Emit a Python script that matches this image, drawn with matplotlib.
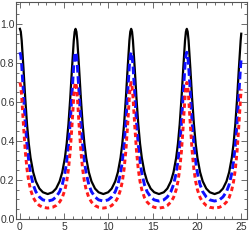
import numpy as np
import matplotlib
matplotlib.use('Agg')
import matplotlib.pyplot as plt
from matplotlib.ticker import MultipleLocator

# one period of each curve (peak at x = 0, 2pi, ...)
x_period = [0.0, 0.1, 0.2, 0.4, 0.6, 0.8, 1.0, 1.2, 1.5, 1.8, 2.2, 2.6, 3.14,
            3.683, 4.083, 4.483, 4.783, 5.083, 5.283, 5.483, 5.683, 5.883, 6.083, 6.183]
black_period = [0.975, 0.960, 0.915, 0.773, 0.619, 0.487, 0.387, 0.314, 0.240, 0.193, 0.156, 0.137, 0.128,
                0.137, 0.156, 0.193, 0.240, 0.314, 0.387, 0.487, 0.619, 0.773, 0.915, 0.960]
blue_period = [0.855, 0.838, 0.790, 0.644, 0.496, 0.379, 0.294, 0.235, 0.176, 0.140, 0.113, 0.098, 0.092,
               0.098, 0.113, 0.140, 0.176, 0.235, 0.294, 0.379, 0.496, 0.644, 0.790, 0.838]
red_period = [0.700, 0.681, 0.628, 0.481, 0.349, 0.255, 0.192, 0.150, 0.110, 0.087, 0.069, 0.060, 0.056,
              0.060, 0.069, 0.087, 0.110, 0.150, 0.192, 0.255, 0.349, 0.481, 0.628, 0.681]
period = 2 * np.pi
n_periods = 4
x_end = 25.0
end_values = {'black': 0.950, 'blue': 0.826, 'red': 0.665}

x_ticks = [0, 5, 10, 15, 20, 25]
y_ticks = [0.0, 0.2, 0.4, 0.6, 0.8, 1.0]


def build(vals, key):
    xs = np.concatenate([np.array(x_period) + k * period for k in range(n_periods)])
    ys = np.tile(vals, n_periods)
    keep = xs < x_end
    xs = np.append(xs[keep], x_end)
    ys = np.append(ys[keep], end_values[key])
    return xs, ys


plt.rcParams['font.family'] = ['Liberation Sans', 'DejaVu Sans']
plt.rcParams['lines.scale_dashes'] = False

fig = plt.figure(figsize=(2.49, 2.40), dpi=100)
ax = fig.add_axes([0.064, 0.0875, 0.928, 0.9045])

xb, yb = build(black_period, 'black')
xu, yu = build(blue_period, 'blue')
xr, yr = build(red_period, 'red')
ax.plot(xb, yb, color='black', lw=1.6, solid_joinstyle='round')
ax.plot(xu, yu, color='#1010ff', lw=2.1, linestyle=(0, (5.5, 2.6)))
ax.plot(xr, yr, color='#ff1a1a', lw=2.1, linestyle=(0, (3.2, 2.4)))

ax.set_xlim(-0.45, 25.65)
ax.set_ylim(0, 1.113)
ax.set_xticks(x_ticks)
ax.set_yticks(y_ticks)
ax.set_yticklabels(['%.1f' % v for v in y_ticks])
ax.xaxis.set_minor_locator(MultipleLocator(1))
ax.yaxis.set_minor_locator(MultipleLocator(0.05))
ax.tick_params(which='both', direction='in', top=True, right=True,
               color='#555555', width=0.6, labelsize=7.5, labelcolor='#333333')
ax.tick_params(axis='y', pad=1)
ax.tick_params(axis='x', pad=2)
ax.tick_params(which='major', length=4)
ax.tick_params(which='minor', length=2)
for s in ax.spines.values():
    s.set_color('#555555')
    s.set_linewidth(0.8)

fig.savefig('out.png', dpi=100)
